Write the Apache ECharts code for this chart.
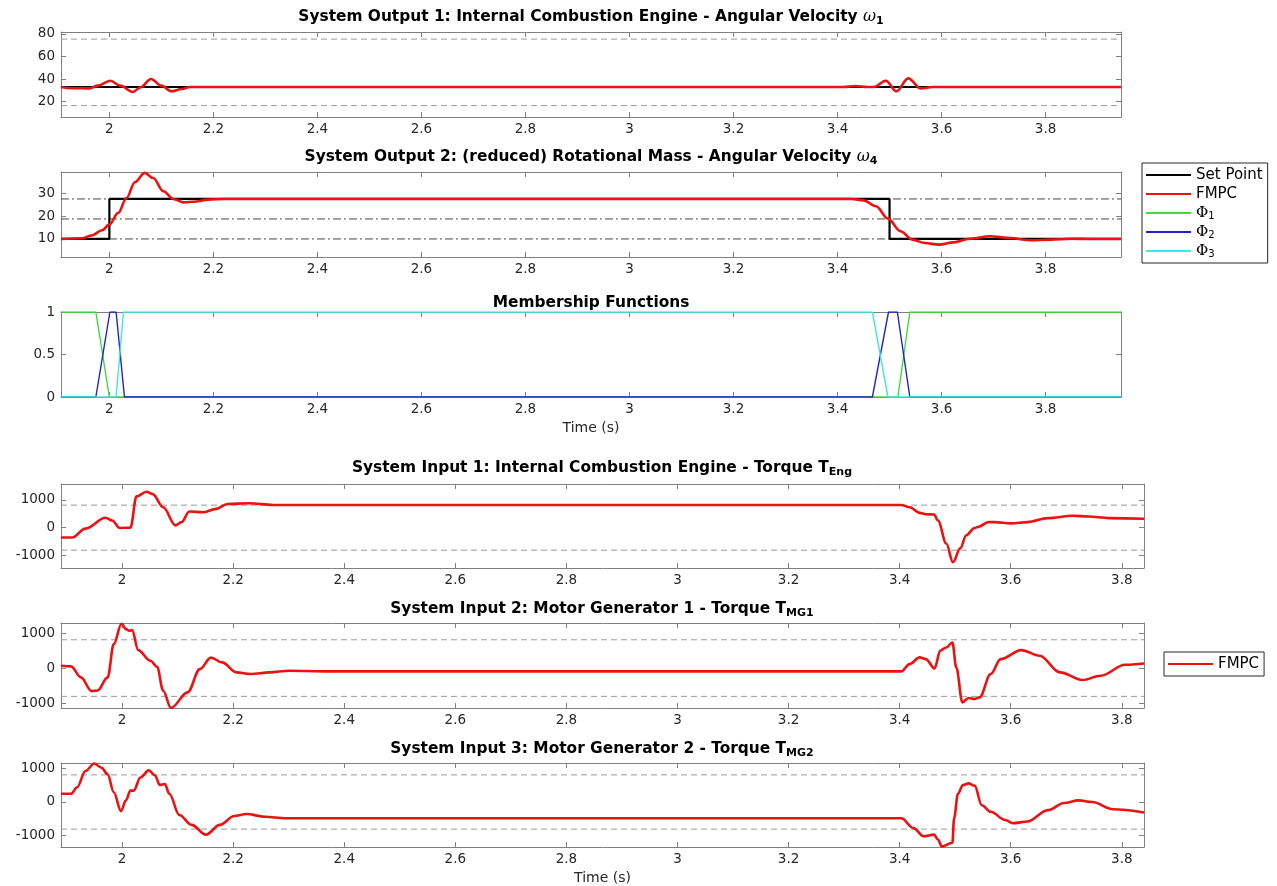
<!DOCTYPE html>
<html>
<head>
<meta charset="utf-8">
<title>FMPC Simulation Results</title>
<script src="https://cdn.jsdelivr.net/npm/echarts@6/dist/echarts.min.js"></script>
<style>
  html, body { margin: 0; padding: 0; background: #ffffff; }
  #chart { width: 1277px; height: 886px; }
</style>
</head>
<body>
<div id="chart"></div>
<script>
// ---- time axes -------------------------------------------------------------
const outputTimeRange = [1.907, 3.945];
const inputTimeRange = [1.89, 3.84];
const timeTicks = [2, 2.2, 2.4, 2.6, 2.8, 3, 3.2, 3.4, 3.6, 3.8];

// ---- System Output 1: engine angular velocity ------------------------------
const w1Range = [6.3, 81.7];
const w1Ticks = [20, 40, 60, 80];
const w1Bounds = [16.4, 75.4];
const w1SetPoint = 32.9;
const w1Fmpc = [
  [1.907, 32.9], [1.927, 31.8], [1.962, 31.7], [1.978, 34.1], [2.002, 38.5],
  [2.021, 34.1], [2.045, 28.5], [2.06, 32.6], [2.08, 40.0], [2.1, 34.1],
  [2.119, 29.1], [2.139, 31.1], [2.155, 32.9], [3.411, 32.9], [3.435, 33.8],
  [3.458, 32.9], [3.47, 32.9], [3.493, 38.5], [3.513, 29.1], [3.536, 40.6],
  [3.56, 31.7], [3.583, 32.9], [3.945, 32.9]
];

// ---- System Output 2: rotational mass angular velocity ---------------------
const w4Range = [2.1, 39.3];
const w4Ticks = [10, 20, 30];
const w4Levels = [10, 18.75, 27.5];
const w4SetPoint = [[1.907, 10], [2.0, 27.5], [3.5, 10], [3.945, 10]];
const w4Fmpc = [
  [1.907, 10], [1.947, 10.3], [1.966, 11.5], [1.986, 13.8], [2.0, 16.3],
  [2.017, 21.4], [2.033, 27.9], [2.049, 34.8], [2.068, 38.9], [2.084, 36.7],
  [2.104, 30.9], [2.123, 27.5], [2.143, 26.0], [2.162, 26.3], [2.19, 27.2],
  [2.221, 27.5], [3.427, 27.5], [3.45, 26.9], [3.474, 24.3], [3.497, 18.9],
  [3.521, 13.4], [3.544, 9.7], [3.568, 8.2], [3.595, 7.5], [3.623, 8.5],
  [3.654, 10.1], [3.693, 11.2], [3.732, 10.4], [3.771, 9.4], [3.81, 9.7],
  [3.849, 10.1], [3.889, 10], [3.945, 10]
];

// ---- Membership functions ---------------------------------------------------
const phiRange = [0, 1];
const phiTicks = [0, 0.5, 1];
const phi1 = [[1.907, 1], [1.974, 1], [2.0, 0], [3.516, 0], [3.539, 1], [3.945, 1]];
const phi2 = [[1.907, 0], [1.974, 0], [2.001, 1], [2.013, 1], [2.029, 0],
              [3.467, 0], [3.498, 1], [3.515, 1], [3.539, 0], [3.945, 0]];
const phi3 = [[1.907, 0], [2.013, 0], [2.027, 1], [3.467, 1], [3.497, 0], [3.945, 0]];

// ---- System inputs: torques -------------------------------------------------
const torqueTicks = [-1000, 0, 1000];
const torqueBounds = [-810, 810];

const tEngRange = [-1450, 1570];
const tEngFmpc = [
  [1.89, -355], [1.91, -355], [1.934, -35], [1.97, 355], [1.982, 260],
  [1.996, -10], [2.015, 0], [2.026, 1125], [2.044, 1290], [2.055, 1207],
  [2.074, 734], [2.096, 83], [2.107, 200], [2.121, 580], [2.147, 556],
  [2.169, 675], [2.19, 852], [2.228, 876], [2.272, 817], [2.32, 815],
  [3.403, 815], [3.418, 734], [3.436, 533], [3.447, 485], [3.462, 473],
  [3.469, 260], [3.484, -568], [3.496, -1243], [3.509, -746], [3.52, -272],
  [3.535, -12], [3.542, 35], [3.56, 200], [3.571, 200], [3.601, 154],
  [3.63, 200], [3.667, 343], [3.711, 426], [3.74, 402], [3.777, 343], [3.84, 320]
];

const tMg1Range = [-1143, 1290];
const tMg1Fmpc = [
  [1.89, 67], [1.908, 48], [1.926, -267], [1.945, -660], [1.956, -640],
  [1.974, -267], [1.985, 686], [1.999, 1270], [2.007, 1114], [2.013, 1067],
  [2.018, 1086], [2.029, 514], [2.051, 210], [2.063, 38], [2.074, -648],
  [2.088, -1140], [2.118, -695], [2.14, -29], [2.16, 300], [2.18, 162],
  [2.206, -124], [2.232, -171], [2.265, -124], [2.301, -76], [2.368, -95],
  [3.403, -95], [3.418, 114], [3.436, 305], [3.447, 257], [3.463, -10],
  [3.473, 495], [3.484, 590], [3.495, 733], [3.502, 19], [3.513, -981],
  [3.524, -857], [3.535, -886], [3.544, -838], [3.564, -171], [3.582, 257],
  [3.619, 514], [3.652, 352], [3.689, -124], [3.729, -343], [3.762, -219],
  [3.806, 95], [3.84, 133]
];

const tMg2Range = [-1345, 1165];
const tMg2Fmpc = [
  [1.89, 244], [1.908, 244], [1.919, 439], [1.934, 927], [1.95, 1150],
  [1.963, 1024], [1.974, 829], [1.985, 293], [1.998, -273], [2.007, 49],
  [2.015, 341], [2.021, 341], [2.033, 732], [2.048, 946], [2.059, 800],
  [2.068, 507], [2.077, 537], [2.085, 244], [2.103, -390], [2.125, -683],
  [2.151, -976], [2.176, -683], [2.202, -420], [2.224, -361], [2.257, -439],
  [2.294, -488], [3.403, -488], [3.425, -780], [3.443, -1024], [3.462, -976],
  [3.469, -1122], [3.476, -1330], [3.495, -1220], [3.498, -488], [3.505, 244],
  [3.514, 507], [3.524, 556], [3.535, 488], [3.548, -98], [3.564, -293],
  [3.59, -537], [3.604, -634], [3.63, -585], [3.667, -244], [3.696, -29],
  [3.722, 49], [3.747, 0], [3.784, -215], [3.84, -312]
];

// ---- styling ---------------------------------------------------------------
const FONT = '"DejaVu Sans", "Liberation Sans", Arial, sans-serif';
const SERIF = '"DejaVu Serif", "Liberation Serif", serif';
const AXIS_GRAY = '#808080';
const INK = '#262626';
const RED = '#ee1111';
const BOUND_GRAY = '#9a9a9a';

const panels = [
  { grid: { left: 61, top: 32, width: 1060, height: 85 }, x: outputTimeRange, y: w1Range, yTicks: w1Ticks },
  { grid: { left: 61, top: 172, width: 1060, height: 85 }, x: outputTimeRange, y: w4Range, yTicks: w4Ticks },
  { grid: { left: 61, top: 312, width: 1060, height: 85 }, x: outputTimeRange, y: phiRange, yTicks: phiTicks, xName: 'Time (s)' },
  { grid: { left: 61, top: 484, width: 1083, height: 84 }, x: inputTimeRange, y: tEngRange, yTicks: torqueTicks },
  { grid: { left: 61, top: 623, width: 1083, height: 85 }, x: inputTimeRange, y: tMg1Range, yTicks: torqueTicks },
  { grid: { left: 61, top: 763, width: 1083, height: 84 }, x: inputTimeRange, y: tMg2Range, yTicks: torqueTicks, xName: 'Time (s)' }
];

const plain = v => String(v);

function xAxisPair(p, i) {
  const base = {
    type: 'value', gridIndex: i, min: p.x[0], max: p.x[1],
    axisLine: { show: true, onZero: false, lineStyle: { color: AXIS_GRAY, width: 1 } },
    axisTick: { show: true, inside: true, length: 5, customValues: timeTicks, lineStyle: { color: AXIS_GRAY } },
    splitLine: { show: false }
  };
  const bottom = Object.assign({}, base, {
    position: 'bottom',
    axisLabel: { show: true, customValues: timeTicks, formatter: plain, color: INK, fontSize: 13.5, fontFamily: FONT, margin: 5 }
  });
  if (p.xName) {
    Object.assign(bottom, {
      name: p.xName, nameLocation: 'middle', nameGap: 24,
      nameTextStyle: { color: INK, fontSize: 14, fontFamily: FONT }
    });
  }
  const top = Object.assign({}, base, { position: 'top', axisLabel: { show: false } });
  return [bottom, top];
}

function yAxisPair(p, i) {
  const base = {
    type: 'value', gridIndex: i, min: p.y[0], max: p.y[1],
    axisLine: { show: true, onZero: false, lineStyle: { color: AXIS_GRAY, width: 1 } },
    axisTick: { show: true, inside: true, length: 5, customValues: p.yTicks, lineStyle: { color: AXIS_GRAY } },
    splitLine: { show: false }
  };
  const left = Object.assign({}, base, {
    position: 'left',
    axisLabel: { show: true, customValues: p.yTicks, formatter: plain, color: INK, fontSize: 13.5, fontFamily: FONT, margin: 6 }
  });
  const right = Object.assign({}, base, { position: 'right', axisLabel: { show: false } });
  return [left, right];
}

const xAxes = [], yAxes = [];
panels.forEach((p, i) => {
  xAxes.push(...xAxisPair(p, i));
  yAxes.push(...yAxisPair(p, i));
});

function line(name, data, panel, color, width, extra) {
  return Object.assign({
    type: 'line', name: name, data: data,
    xAxisIndex: panel * 2, yAxisIndex: panel * 2,
    symbol: 'none', showSymbol: false, silent: true, animation: false,
    lineStyle: { color: color, width: width },
    itemStyle: { color: color },
    emphasis: { disabled: true }, z: 3
  }, extra || {});
}

function hline(value, panel, range, color, type, width) {
  return line('limit', [[range[0], value], [range[1], value]], panel, color, width,
    { lineStyle: { color: color, width: width, type: type }, z: 1 });
}

const smoothCurve = { smooth: 0.35, smoothMonotone: 'x' };
const dashed = [6, 4];
const dashDot = [8, 3, 2, 3];

const series = [
  // Output 1
  ...w1Bounds.map(v => hline(v, 0, outputTimeRange, BOUND_GRAY, dashed, 1)),
  line('Set Point', [[outputTimeRange[0], w1SetPoint], [outputTimeRange[1], w1SetPoint]], 0, '#000000', 2.2),
  line('FMPC', w1Fmpc, 0, RED, 2.6, smoothCurve),
  // Output 2
  ...w4Levels.map(v => hline(v, 1, outputTimeRange, '#4a4444', dashDot, 1)),
  line('Set Point', w4SetPoint, 1, '#000000', 2.2, { step: 'end' }),
  line('FMPC', w4Fmpc, 1, RED, 2.6, smoothCurve),
  // Membership functions
  line('Φ1', phi1, 2, '#3cdc3c', 1.4),
  line('Φ2', phi2, 2, '#2222cc', 1.4),
  line('Φ3', phi3, 2, '#3ee6e6', 1.4),
  // Inputs
  ...torqueBounds.map(v => hline(v, 3, inputTimeRange, BOUND_GRAY, dashed, 1)),
  line('FMPC', tEngFmpc, 3, RED, 2.6, smoothCurve),
  ...torqueBounds.map(v => hline(v, 4, inputTimeRange, BOUND_GRAY, dashed, 1)),
  line('FMPC', tMg1Fmpc, 4, RED, 2.6, smoothCurve),
  ...torqueBounds.map(v => hline(v, 5, inputTimeRange, BOUND_GRAY, dashed, 1)),
  line('FMPC', tMg2Fmpc, 5, RED, 2.6, smoothCurve)
];

// ---- panel titles (rich text for the Greek symbols and subscripts) ---------
const titleRich = {
  m: { fontSize: 15.4, fontWeight: 'bold', fontFamily: FONT, fill: '#000', lineHeight: 20 },
  g: { fontSize: 16, fontStyle: 'italic', fontFamily: SERIF, fill: '#000', lineHeight: 20 },
  s: { fontSize: 11, fontWeight: 'bold', fontFamily: FONT, fill: '#000', lineHeight: 10, verticalAlign: 'bottom' }
};
const titles = [
  { x: 591, y: 17, text: '{m|System Output 1: Internal Combustion Engine - Angular Velocity }{g|ω}{s|1}' },
  { x: 591, y: 157, text: '{m|System Output 2: (reduced) Rotational Mass - Angular Velocity }{g|ω}{s|4}' },
  { x: 591, y: 303, text: '{m|Membership Functions}' },
  { x: 602, y: 468, text: '{m|System Input 1: Internal Combustion Engine - Torque T}{s|Eng}' },
  { x: 602, y: 609, text: '{m|System Input 2: Motor Generator 1 - Torque T}{s|MG1}' },
  { x: 602, y: 749, text: '{m|System Input 3: Motor Generator 2 - Torque T}{s|MG2}' }
];
const graphics = titles.map(t => ({
  type: 'text', x: t.x, y: t.y, silent: true,
  style: { text: t.text, rich: titleRich, align: 'center', verticalAlign: 'middle', fill: '#000' }
}));

// ---- legends ---------------------------------------------------------------
const legendText = {
  fontSize: 15, fontFamily: FONT, color: '#000', lineHeight: 16,
  rich: {
    p: { fontSize: 15, fontFamily: SERIF, color: '#000', lineHeight: 16 },
    s: { fontSize: 10, fontFamily: FONT, color: '#000', lineHeight: 9, verticalAlign: 'bottom' }
  }
};
const legendName = name => name.startsWith('Φ') ? '{p|Φ}{s|' + name.slice(1) + '}' : name;
const legendBase = {
  orient: 'vertical', selectedMode: false,
  itemWidth: 45, itemHeight: 16, itemGap: 3, padding: [4, 5, 4, 3],
  borderColor: '#262626', borderWidth: 1, backgroundColor: '#ffffff',
  itemStyle: { opacity: 0 },
  textStyle: legendText, formatter: legendName
};

const option = {
  backgroundColor: '#ffffff',
  animation: false,
  grid: panels.map(p => p.grid),
  xAxis: xAxes,
  yAxis: yAxes,
  legend: [
    Object.assign({}, legendBase, { left: 1142, top: 163, data: ['Set Point', 'FMPC', 'Φ1', 'Φ2', 'Φ3'] }),
    Object.assign({}, legendBase, { left: 1164, top: 652, data: ['FMPC'] })
  ],
  graphic: graphics,
  series: series
};

const chart = echarts.init(document.getElementById('chart'));
chart.setOption(option);
</script>
</body>
</html>
